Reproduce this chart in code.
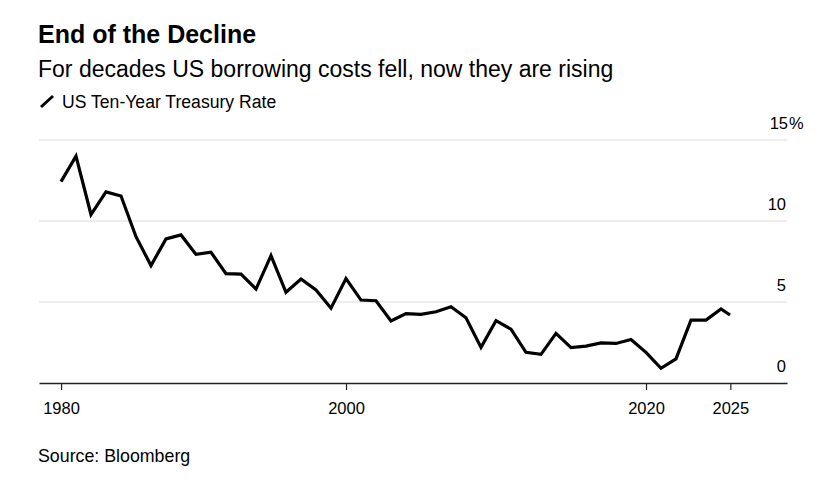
<!DOCTYPE html>
<html>
<head>
<meta charset="utf-8">
<script src="https://cdn.jsdelivr.net/npm/d3@7"></script>
<style>
  body { margin: 0; background: #fff; }
  svg { font-family: "Liberation Sans", Arial, Helvetica, sans-serif; }
</style>
</head>
<body>
<div id="chart"></div>
<script>
// year-end values, plus the latest reading for 2025
const dates = [
  "1980-12-31", "1981-12-31", "1982-12-31", "1983-12-31", "1984-12-31",
  "1985-12-31", "1986-12-31", "1987-12-31", "1988-12-31", "1989-12-31",
  "1990-12-31", "1991-12-31", "1992-12-31", "1993-12-31", "1994-12-31",
  "1995-12-31", "1996-12-31", "1997-12-31", "1998-12-31", "1999-12-31",
  "2000-12-31", "2001-12-31", "2002-12-31", "2003-12-31", "2004-12-31",
  "2005-12-31", "2006-12-31", "2007-12-31", "2008-12-31", "2009-12-31",
  "2010-12-31", "2011-12-31", "2012-12-31", "2013-12-31", "2014-12-31",
  "2015-12-31", "2016-12-31", "2017-12-31", "2018-12-31", "2019-12-31",
  "2020-12-31", "2021-12-31", "2022-12-31", "2023-12-31", "2024-12-31",
  "2025-08-08"
]
const rates = [
  12.43, 14.0, 10.4, 11.8, 11.54,
  9.03, 7.25, 8.89, 9.14, 7.94,
  8.07, 6.75, 6.72, 5.8, 7.86,
  5.6, 6.42, 5.74, 4.62, 6.45,
  5.12, 5.08, 3.83, 4.28, 4.24,
  4.4, 4.71, 4.03, 2.2, 3.85,
  3.32, 1.89, 1.77, 3.06, 2.18,
  2.28, 2.48, 2.44, 2.69, 1.89,
  0.91, 1.49, 3.88, 3.88, 4.57,
  4.2
]
const yTicks = [0, 5, 10, 15]
const xTickDates = ["1981-01-01", "2000-01-01", "2020-01-01", "2025-08-15"]
const xTickLabels = ["1980", "2000", "2020", "2025"]

const width = 835
const height = 492
const plot = { left: 39, right: 787, top: 140, bottom: 383 }

const parse = d3.timeParse("%Y-%m-%d")
const points = dates.map((d, i) => ({ date: parse(d), rate: rates[i] }))

const x = d3
  .scaleTime()
  .domain([parse("1979-07-14"), parse("2029-05-26")])
  .range([plot.left, plot.right])

const y = d3
  .scaleLinear()
  .domain([0, 15])
  .range([plot.bottom, plot.top])

const svg = d3
  .select("#chart")
  .append("svg")
  .attr("width", width)
  .attr("height", height)

// titles
svg
  .append("text")
  .attr("x", 38)
  .attr("y", 43)
  .attr("font-size", "25px")
  .attr("font-weight", "bold")
  .attr("fill", "#000")
  .text("End of the Decline")

svg
  .append("text")
  .attr("x", 38)
  .attr("y", 77)
  .attr("font-size", "23px")
  .attr("fill", "#000")
  .text("For decades US borrowing costs fell, now they are rising")

// legend
svg
  .append("line")
  .attr("x1", 41)
  .attr("y1", 107)
  .attr("x2", 53)
  .attr("y2", 96)
  .attr("stroke", "#000")
  .attr("stroke-width", 3)
svg
  .append("text")
  .attr("x", 62)
  .attr("y", 108)
  .attr("font-size", "17.6px")
  .attr("fill", "#000")
  .text("US Ten-Year Treasury Rate")

// gridlines + y labels
const yAxis = svg.append("g")
yAxis
  .selectAll("line")
  .data(yTicks.filter((d) => d > 0))
  .enter()
  .append("line")
  .attr("x1", plot.left)
  .attr("x2", plot.right)
  .attr("y1", (d) => y(d))
  .attr("y2", (d) => y(d))
  .attr("stroke", "#dcdcdc")
  .attr("stroke-width", 1.2)

yAxis
  .selectAll("text.ylab")
  .data(yTicks)
  .enter()
  .append("text")
  .attr("class", "ylab")
  .attr("x", (d) => (d === 15 ? 788 : 786))
  .attr("y", (d) => y(d) - 11)
  .attr("text-anchor", "end")
  .attr("font-size", "16.5px")
  .attr("fill", "#000")
  .text((d) => d)

svg
  .append("text")
  .attr("x", 789)
  .attr("y", y(15) - 11)
  .attr("font-size", "16.5px")
  .attr("fill", "#000")
  .text("%")

// x axis
const xAxis = svg
  .append("g")
  .attr("transform", `translate(0,${plot.bottom})`)
  .call(
    d3
      .axisBottom(x)
      .tickValues(xTickDates.map(parse))
      .tickFormat((d, i) => xTickLabels[i])
      .tickSize(7)
      .tickSizeOuter(0)
  )
xAxis.select(".domain").attr("stroke", "#222").attr("stroke-width", 1.3)
xAxis.selectAll(".tick line").attr("stroke", "#222").attr("stroke-width", 1.2)
xAxis
  .selectAll(".tick text")
  .attr("font-size", "16.5px")
  .attr("font-family", "Liberation Sans, Arial, sans-serif")
  .attr("fill", "#000")
  .attr("dy", "0")
  .attr("y", 31)

// the line
const line = d3
  .line()
  .x((d) => x(d.date))
  .y((d) => y(d.rate))

svg
  .append("path")
  .datum(points)
  .attr("d", line)
  .attr("fill", "none")
  .attr("stroke", "#000")
  .attr("stroke-width", 3.2)
  .attr("stroke-linejoin", "miter")
  .attr("stroke-linecap", "butt")

// source
svg
  .append("text")
  .attr("x", 38)
  .attr("y", 462)
  .attr("font-size", "17.8px")
  .attr("fill", "#000")
  .text("Source: Bloomberg")
</script>
</body>
</html>
